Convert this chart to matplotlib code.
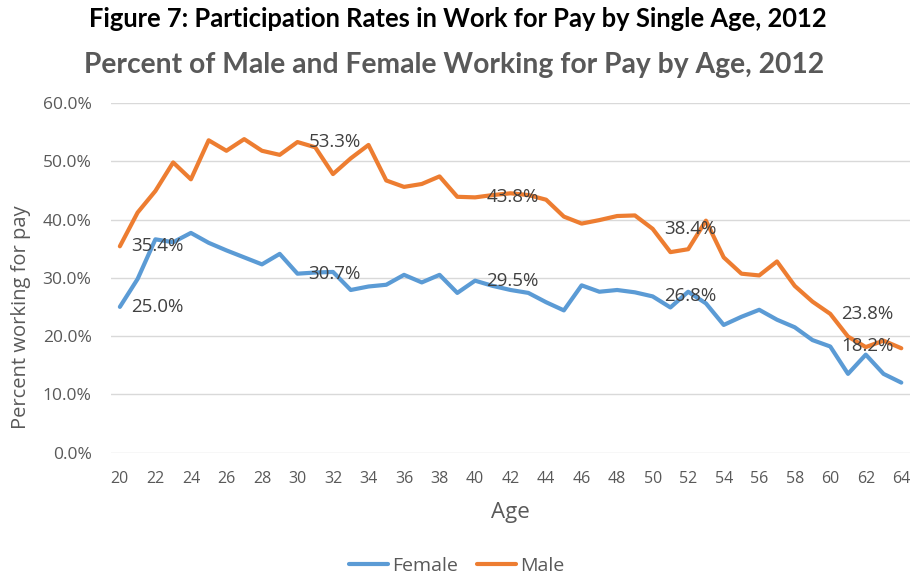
import numpy as np
import matplotlib.pyplot as plt

# Ages and participation rates (percent)
ages = np.arange(20, 65)
female = [25.0, 29.8, 36.6, 36.1, 37.7, 36.0, 34.7, 33.5, 32.3, 34.1,
          30.7, 30.9, 31.0, 27.9, 28.5, 28.8, 30.5, 29.2, 30.5, 27.4,
          29.5, 28.6, 27.9, 27.4, 25.8, 24.4, 28.7, 27.6, 27.9, 27.5,
          26.8, 24.9, 27.6, 25.6, 21.9, 23.3, 24.5, 22.8, 21.5, 19.3,
          18.2, 13.5, 16.8, 13.5, 12.0]
male = [35.4, 41.2, 44.9, 49.8, 46.9, 53.6, 51.8, 53.8, 51.8, 51.1,
        53.3, 52.4, 47.8, 50.5, 52.8, 46.7, 45.6, 46.1, 47.4, 43.9,
        43.8, 44.2, 44.5, 44.2, 43.4, 40.5, 39.3, 39.9, 40.6, 40.7,
        38.4, 34.4, 34.9, 39.8, 33.5, 30.7, 30.4, 32.8, 28.6, 25.9,
        23.8, 19.9, 18.1, 19.2, 17.9]
label_ages = [20, 30, 40, 50, 60]

plt.rcParams['font.family'] = ['Open Sans', 'DejaVu Sans']
grey = '#595959'

fig = plt.figure(figsize=(9.12, 5.8), dpi=100)
ax = fig.add_axes([0.1217, 0.2198, 0.8763, 0.6026])

ax.plot(ages, female, color='#5B9BD5', lw=3, label='Female', solid_capstyle='round')
ax.plot(ages, male, color='#ED7D31', lw=3, label='Male', solid_capstyle='round')

# data labels at every tenth year
for a in label_ages:
    i = a - ages[0]
    for series in (female, male):
        ax.annotate(f'{series[i]:.1f}%', (a, series[i]), xytext=(8, 0),
                    textcoords='offset points', ha='left', va='center',
                    fontsize=13.5, color='#404040')

ax.set_xlim(19.5, 64.5)
ax.set_ylim(0, 60)
ax.set_xticks(ages[::2])
ax.set_yticks(np.arange(0, 61, 10))
ax.set_yticklabels([f'{v:.1f}%' for v in np.arange(0, 61, 10)])
ax.tick_params(length=0, colors=grey)
ax.tick_params(axis='x', pad=13.5, labelsize=11.5)
ax.tick_params(axis='y', pad=14, labelsize=12.5)
ax.grid(axis='y', color='#D9D9D9', lw=1)
ax.set_axisbelow(True)
for s in ax.spines.values():
    s.set_visible(False)

fig.text(0.56, 0.107, 'Age', ha='center', va='baseline', fontsize=16, color=grey)
fig.text(0.023, 0.453, 'Percent working for pay', ha='center', va='center',
         rotation=90, fontsize=14.5, color=grey)

fig.text(0.502, 0.967, 'Figure 7: Participation Rates in Work for Pay by Single Age, 2012',
         ha='center', va='center', fontsize=18.4, fontweight='bold', color='black',
         family=['Lato', 'DejaVu Sans'])
fig.text(0.498, 0.888, 'Percent of Male and Female Working for Pay by Age, 2012',
         ha='center', va='center', fontsize=20.3, fontweight='bold', color=grey,
         family=['Lato', 'DejaVu Sans'])

fig.legend(loc='center', bbox_to_anchor=(0.5005, 0.024), ncol=2, frameon=False,
           fontsize=14, labelcolor=grey, handlelength=2.0, handletextpad=0.2,
           columnspacing=1.0)

fig.savefig('out.png', dpi=100)
